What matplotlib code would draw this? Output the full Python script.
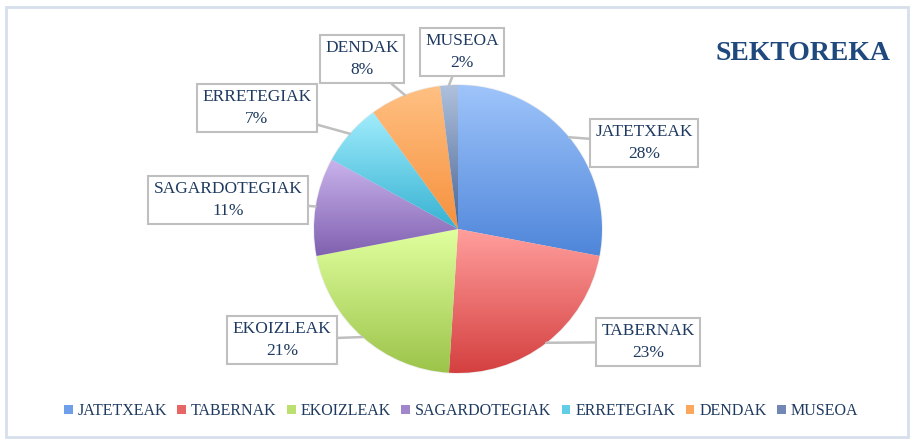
import numpy as np
import matplotlib
matplotlib.use("Agg")
import matplotlib.pyplot as plt
from matplotlib.patches import Patch, Rectangle
from matplotlib.colors import to_rgb

# data
sectors = ["JATETXEAK", "TABERNAK", "EKOIZLEAK", "SAGARDOTEGIAK",
           "ERRETEGIAK", "DENDAK", "MUSEOA"]
shares = [28, 23, 21, 11, 7, 8, 2]
light = ["#9EC4FA", "#FF9E9C", "#E0FF9E", "#C9B3EC", "#A0ECFC", "#FFC082", "#AEC0DC"]
dark = ["#4F86DA", "#D43F3F", "#9CC44A", "#8061B0", "#36B2D2", "#F6913E", "#4A6696"]
mid = ["#6E9FE8", "#E66565", "#BCE070", "#A087CC", "#62CDE6", "#FBA85C", "#7188B4"]

# box centres of the data labels (pixel coords, y from bottom)
label_pos = [(644, 303), (648, 104), (282, 106), (228, 246),
             (257, 338), (362, 387), (462, 394)]

TXT = "#1F3A60"
plt.rcParams["font.family"] = ["Liberation Serif", "DejaVu Serif"]

fig = plt.figure(figsize=(9.14, 4.46), dpi=100)
ax = fig.add_axes([0, 0, 1, 1])

wedges, _ = ax.pie(shares, center=(458, 217), radius=144, startangle=90,
                   counterclock=False, colors=mid, frame=True,
                   wedgeprops=dict(edgecolor="#EEEEEE", linewidth=1.2))

# vertical gradient inside each slice
for w, c1, c2 in zip(wedges, light, dark):
    v = w.get_path().vertices
    x0, x1 = v[:, 0].min(), v[:, 0].max()
    y0, y1 = v[:, 1].min(), v[:, 1].max()
    t = np.linspace(0, 1, 64)[:, None]
    grad = (1 - t) * np.array(to_rgb(c1)) + t * np.array(to_rgb(c2))
    im = ax.imshow(grad[:, None, :], extent=(x0, x1, y0, y1), origin="upper",
                   aspect="auto", interpolation="bilinear", zorder=1.5)
    im.set_clip_path(w)
    w.set_zorder(1)

# call-out labels pointing to the middle of each slice
for w, name, val, pos in zip(wedges, sectors, shares, label_pos):
    ang = np.deg2rad((w.theta1 + w.theta2) / 2)
    cx, cy = w.center
    tip = (cx + w.r * np.cos(ang), cy + w.r * np.sin(ang))
    ax.annotate(f"{name}\n{val}%", xy=tip, xytext=pos, ha="center", va="center",
                fontsize=12.5, color=TXT, linespacing=1.5, zorder=3,
                bbox=dict(boxstyle="square,pad=0.3", fc="white", ec="#BFBFBF", lw=1.5),
                arrowprops=dict(arrowstyle="-", color="#BFBFBF", lw=1.8,
                                shrinkA=0, shrinkB=0))

ax.text(803, 392, "SEKTOREKA", ha="center", va="center", fontsize=20,
        fontweight="bold", color="#1F497D")

ax.add_patch(Rectangle((6, 9), 902, 430, fill=False, ec="#D6DFEB", lw=2))

ax.set_xlim(0, 914)
ax.set_ylim(0, 446)
ax.set_aspect("equal")
ax.axis("off")

handles = [Patch(facecolor=c, edgecolor="none") for c in mid]
fig.legend(handles, sectors, loc="center", bbox_to_anchor=(461 / 914, 35 / 446),
           ncol=7, frameon=False, fontsize=11.5, labelcolor=TXT,
           handlelength=0.55, handleheight=0.55, handletextpad=0.3,
           columnspacing=0.65)

fig.savefig("out.png", dpi=100, facecolor="white")
